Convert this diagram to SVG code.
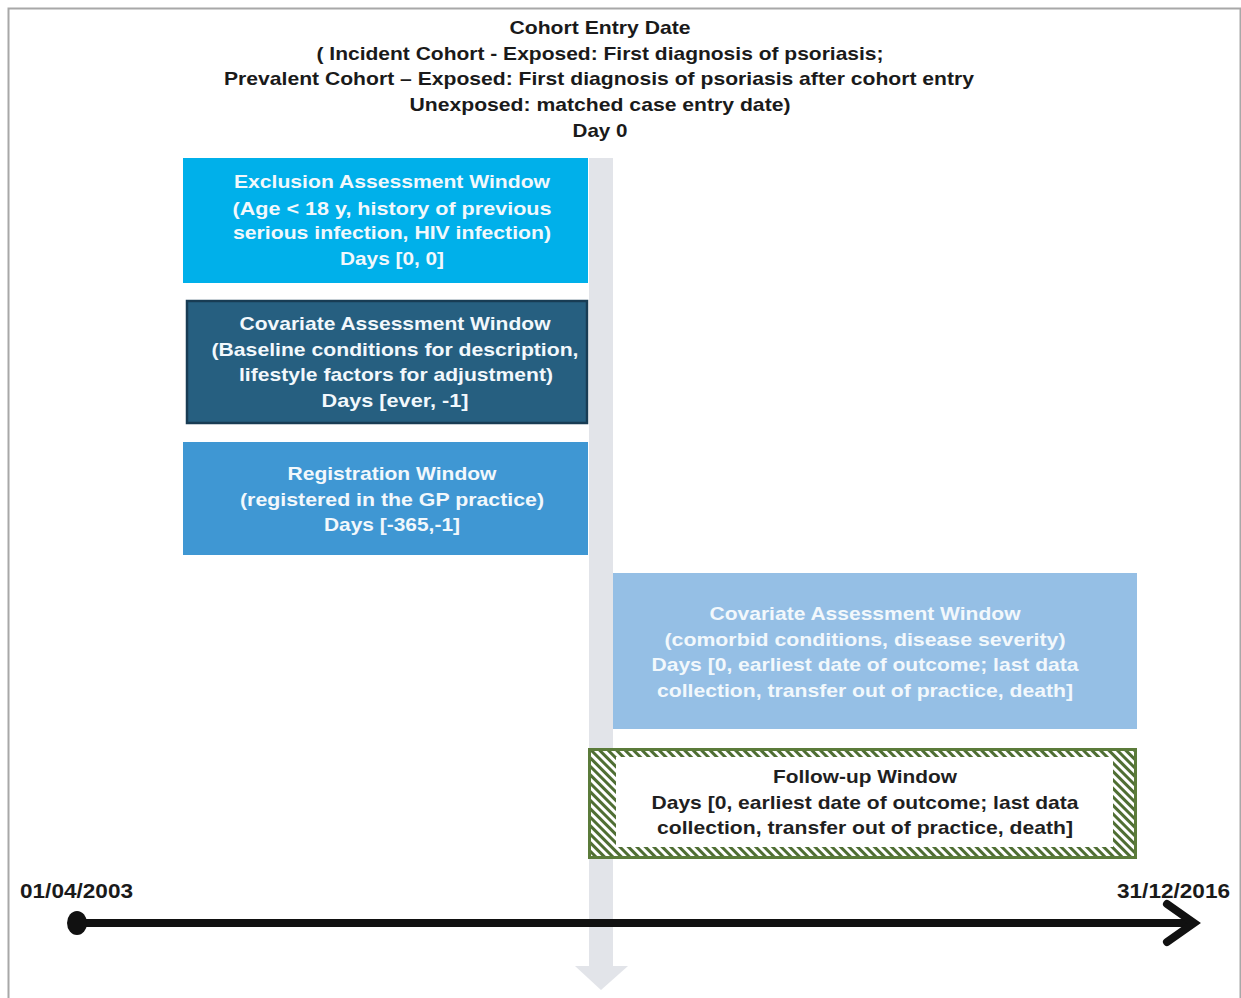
<svg xmlns="http://www.w3.org/2000/svg" width="1241" height="998" viewBox="0 0 1241 998">
<style>
text{font-family:"Liberation Sans",Arial,sans-serif;font-weight:bold;font-size:19px;text-anchor:middle}
.title{fill:#1a1a1a}
.w{fill:#f2f8fc}
.dk{fill:#1f1f1f}
.date{font-size:21px;fill:#1a1a1a;text-anchor:start}
</style>
<defs>
<pattern id="hatch" patternUnits="userSpaceOnUse" width="6" height="6" patternTransform="rotate(-45)">
<rect width="6" height="6" fill="#ffffff"/>
<rect width="3" height="6" fill="#4f6e33"/>
</pattern>
</defs>
<rect x="0" y="0" width="1241" height="998" fill="#ffffff"/>
<path d="M8.5,1000 V8.5 H1240.5 V1000" fill="none" stroke="#a8a8a8" stroke-width="2"/>

<g id="title">
<text class="title" x="600" y="34" textLength="181" lengthAdjust="spacingAndGlyphs">Cohort Entry Date</text>
<text class="title" x="600" y="60" textLength="567" lengthAdjust="spacingAndGlyphs">( Incident Cohort - Exposed: First diagnosis of psoriasis;</text>
<text class="title" x="599" y="85" textLength="750" lengthAdjust="spacingAndGlyphs">Prevalent Cohort – Exposed: First diagnosis of psoriasis after cohort entry</text>
<text class="title" x="600" y="111" textLength="381" lengthAdjust="spacingAndGlyphs">Unexposed: matched case entry date)</text>
<text class="title" x="600" y="137" textLength="55" lengthAdjust="spacingAndGlyphs">Day 0</text>
</g>

<g id="day0-bar">
<path d="M589,158 H613 V966 H628 L601,990 L575,966 H589 Z" fill="#e2e4e9"/>
</g>

<g id="exclusion-window">
<rect x="183" y="158" width="405" height="125" fill="#00b0ea"/>
<text class="w" x="392" y="188" textLength="316" lengthAdjust="spacingAndGlyphs">Exclusion Assessment Window</text>
<text class="w" x="392" y="215" textLength="319" lengthAdjust="spacingAndGlyphs">(Age &lt; 18 y, history of previous</text>
<text class="w" x="392" y="239" textLength="318" lengthAdjust="spacingAndGlyphs">serious infection, HIV infection)</text>
<text class="w" x="392" y="265" textLength="104" lengthAdjust="spacingAndGlyphs">Days [0, 0]</text>
</g>

<g id="covariate-window-before">
<rect x="187" y="301" width="400" height="122" fill="#265f80" stroke="#183c54" stroke-width="2.5"/>
<text class="w" x="395" y="330" textLength="311" lengthAdjust="spacingAndGlyphs">Covariate Assessment Window</text>
<text class="w" x="395" y="356" textLength="367" lengthAdjust="spacingAndGlyphs">(Baseline conditions for description,</text>
<text class="w" x="396" y="381" textLength="314" lengthAdjust="spacingAndGlyphs">lifestyle factors for adjustment)</text>
<text class="w" x="395" y="407" textLength="147" lengthAdjust="spacingAndGlyphs">Days [ever, -1]</text>
</g>

<g id="registration-window">
<rect x="183" y="442" width="405" height="113" fill="#3f97d3"/>
<text class="w" x="392" y="480" textLength="209" lengthAdjust="spacingAndGlyphs">Registration Window</text>
<text class="w" x="392" y="506" textLength="304" lengthAdjust="spacingAndGlyphs">(registered in the GP practice)</text>
<text class="w" x="392" y="531" textLength="136" lengthAdjust="spacingAndGlyphs">Days [-365,-1]</text>
</g>

<g id="covariate-window-after">
<rect x="613" y="573" width="524" height="156" fill="#95bfe5"/>
<text class="w" x="865" y="620" textLength="311" lengthAdjust="spacingAndGlyphs">Covariate Assessment Window</text>
<text class="w" x="865" y="646" textLength="401" lengthAdjust="spacingAndGlyphs">(comorbid conditions, disease severity)</text>
<text class="w" x="865" y="671" textLength="427" lengthAdjust="spacingAndGlyphs">Days [0, earliest date of outcome; last data</text>
<text class="w" x="865" y="697" textLength="416" lengthAdjust="spacingAndGlyphs">collection, transfer out of practice, death]</text>
</g>

<g id="follow-up-window">
<rect x="589.5" y="749.5" width="546" height="108" fill="url(#hatch)" stroke="#5b7b3a" stroke-width="3"/>
<rect x="616" y="757" width="497" height="90" fill="#ffffff"/>
<text class="dk" x="865" y="783" textLength="184" lengthAdjust="spacingAndGlyphs">Follow-up Window</text>
<text class="dk" x="865" y="809" textLength="427" lengthAdjust="spacingAndGlyphs">Days [0, earliest date of outcome; last data</text>
<text class="dk" x="865" y="834" textLength="416" lengthAdjust="spacingAndGlyphs">collection, transfer out of practice, death]</text>
</g>

<g id="timeline">
<line x1="77" y1="923" x2="1192" y2="923" stroke="#111111" stroke-width="8"/>
<ellipse cx="77" cy="923" rx="10" ry="12" fill="#111111"/>
<polyline points="1167,904 1194,923 1167,942" fill="none" stroke="#111111" stroke-width="8" stroke-linecap="round" stroke-linejoin="miter"/>
<text class="date" x="20" y="898" textLength="113" lengthAdjust="spacingAndGlyphs">01/04/2003</text>
<text class="date" x="1117" y="898" textLength="113" lengthAdjust="spacingAndGlyphs">31/12/2016</text>
</g>
</svg>
